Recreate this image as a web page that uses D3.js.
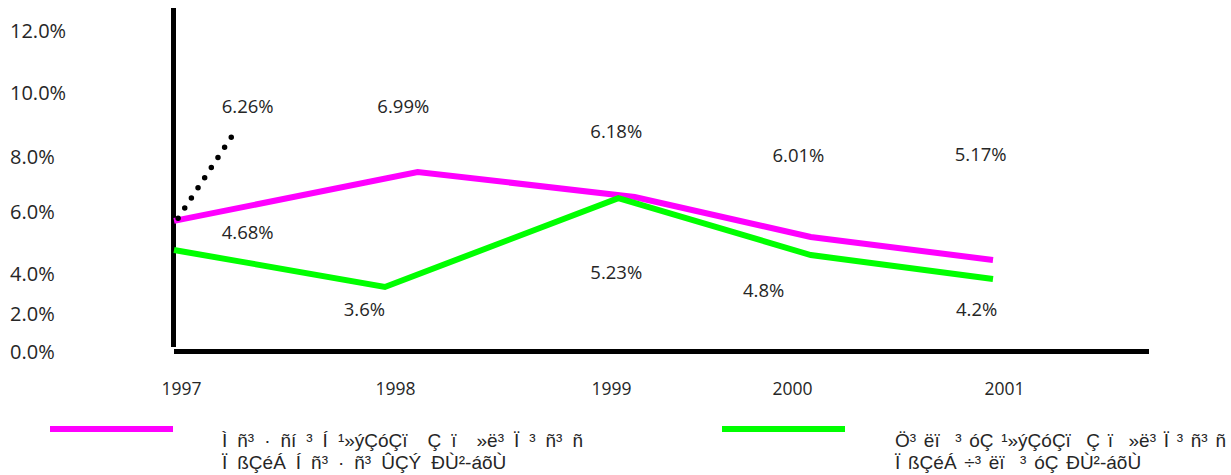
<!DOCTYPE html>
<html>
<head>
<meta charset="utf-8">
<script src="https://cdn.jsdelivr.net/npm/d3@7"></script>
<style>
  body { margin: 0; background: #fff; }
  svg { display: block; }
</style>
</head>
<body>
<script>
// categories and tick values
const years = [1997, 1998, 1999, 2000, 2001];
const yTicks = [0, 2, 4, 6, 8, 10, 12];

// line vertices: [year position, percent]
const plannedLine = [[1997, 5.68], [1998.19, 7.42], [1999.25, 6.51], [2000.11, 5.16], [2001, 4.42]];
const actualLine = [[1997, 4.74], [1997.34, 4.35], [1998.03, 3.3], [1999.17, 6.47], [2000.11, 4.58], [2001, 3.7]];
const dottedLine = [[1997.02, 5.77], [1997.28, 8.59]];

// data labels as printed on the chart
const plannedLabels = [6.26, 6.99, 6.18, 6.01, 5.17];
const actualLabels = [4.68, 3.6, 5.23, 4.8, 4.2];

const legendNames = [
  ["Ì ñ³ · ñí ³ Í ¹»ýÇóÇï  Ç ï  »ë³ Ï ³ ñ³ ñ", "Ï ßÇéÁ Í ñ³ · ñ³ ÛÇÝ ÐÙ²-áõÙ"],
  ["Ö³ ëï  ³ óÇ ¹»ýÇóÇï  Ç ï  »ë³ Ï ³ ñ³ ñ", "Ï ßÇéÁ ÷³ ëï  ³ óÇ ÐÙ²-áõÙ"],
];

// where the labels sit, in chart units (year, percent)
const plannedLabelAt = [[1997.36, 9.56], [1998.12, 9.56], [1999.16, 8.78], [2000.05, 8.03], [2000.94, 8.06]];
const actualLabelAt = [[1997.36, 5.29], [1997.93, 2.15], [1999.16, 4.03], [1999.88, 3.1], [2000.92, 2.15]];

const w = 1231;
const h = 475;
const colors = ["#ff00ff", "#00ff00"];
const numFont = "'Open Sans', 'Noto Sans', sans-serif";
const textColor = "#262626";

const xScale = d3.scaleLinear().domain([1997, 2001]).range([174, 993]);
// year captions are not evenly spaced in the original
const yearScale = d3.scaleLinear().domain(years).range([181, 395, 611, 792, 1004]);
// neither are the tick labels
const yScale = d3.scaleLinear().domain(yTicks).range([351, 313, 273, 211, 156, 92, 30]);

const svg = d3
  .select("body")
  .append("svg")
  .attr("width", w)
  .attr("height", h);

// y tick labels
svg
  .append("g")
  .attr("transform", "translate(10, 0)")
  .call(
    d3.axisRight(yScale)
      .tickValues(yTicks)
      .tickFormat((d) => d.toFixed(1) + "%")
      .tickSize(0)
      .tickPadding(0)
  )
  .call((g) => g.select(".domain").remove())
  .call((g) =>
    g.selectAll("text")
      .attr("dy", "0.35em")
      .style("font-family", numFont)
      .style("font-size", "20px")
      .style("fill", textColor)
  );

// year labels
svg
  .append("g")
  .attr("transform", "translate(0, 389)")
  .call(
    d3.axisBottom(yearScale)
      .tickValues(years)
      .tickFormat(d3.format("d"))
      .tickSize(0)
  )
  .call((g) => g.select(".domain").remove())
  .call((g) =>
    g.selectAll("text")
      .attr("y", 0)
      .attr("dy", "0.35em")
      .style("font-family", numFont)
      .style("font-size", "17.5px")
      .style("fill", textColor)
  );

// thick frame lines
svg
  .append("line")
  .attr("x1", xScale(1997) - 0.5)
  .attr("x2", xScale(1997) - 0.5)
  .attr("y1", yScale(12) - 22)
  .attr("y2", yScale(0) - 4)
  .attr("stroke", "#000")
  .attr("stroke-width", 5);

svg
  .append("line")
  .attr("x1", xScale(1997))
  .attr("x2", 1149)
  .attr("y1", yScale(0) + 0.5)
  .attr("y2", yScale(0) + 0.5)
  .attr("stroke", "#000")
  .attr("stroke-width", 5);

const line = d3
  .line()
  .x((d) => xScale(d[0]))
  .y((d) => yScale(d[1]));

svg
  .selectAll("path.series")
  .data([plannedLine, actualLine])
  .enter()
  .append("path")
  .attr("class", "series")
  .attr("d", line)
  .attr("fill", "none")
  .attr("stroke", (d, i) => colors[i])
  .attr("stroke-width", 6);

svg
  .append("path")
  .datum(dottedLine)
  .attr("d", line)
  .attr("fill", "none")
  .attr("stroke", "#000")
  .attr("stroke-width", 5.5)
  .attr("stroke-linecap", "round")
  .attr("stroke-dasharray", "0, 12.1");

// data labels
const labelData = plannedLabels
  .map((v, i) => ({ v, at: plannedLabelAt[i] }))
  .concat(actualLabels.map((v, i) => ({ v, at: actualLabelAt[i] })));

svg
  .selectAll("text.value")
  .data(labelData)
  .enter()
  .append("text")
  .attr("class", "value")
  .text((d) => d.v + "%")
  .attr("x", (d) => xScale(d.at[0]))
  .attr("y", (d) => yScale(d.at[1]))
  .attr("dy", "0.35em")
  .style("font-family", numFont)
  .style("font-size", "18.5px")
  .style("fill", textColor)
  .style("text-anchor", "middle");

// legend
const legendX = [50, 722];
const legendTextX = [172, 173];
const legendFirstLineWidth = [361, 331];

const legend = svg
  .selectAll("g.legend")
  .data(legendNames)
  .enter()
  .append("g")
  .attr("class", "legend")
  .attr("transform", (d, i) => `translate(${legendX[i]}, 429)`);

legend
  .append("line")
  .attr("x1", 0)
  .attr("x2", 123)
  .attr("stroke", (d, i) => colors[i])
  .attr("stroke-width", 6);

legend.each(function (names, k) {
  const texts = d3.select(this)
    .selectAll("text")
    .data(names)
    .enter()
    .append("text")
    .text((d) => d)
    .attr("x", legendTextX[k])
    .attr("y", (d, i) => 11 + i * 22)
    .attr("dy", "0.35em")
    .style("white-space", "pre")
    .style("font-family", "'Liberation Sans Narrow', 'Liberation Sans', sans-serif")
    .style("font-size", "19px")
    .style("fill", textColor);

  // the gaps in the original are wider than a plain space
  const first = texts.node();
  const gaps = names[0].split(" ").length - 1;
  const extra = (legendFirstLineWidth[k] - first.getComputedTextLength()) / gaps;
  texts.style("word-spacing", `${Math.max(0, extra)}px`);
});
</script>
</body>
</html>
